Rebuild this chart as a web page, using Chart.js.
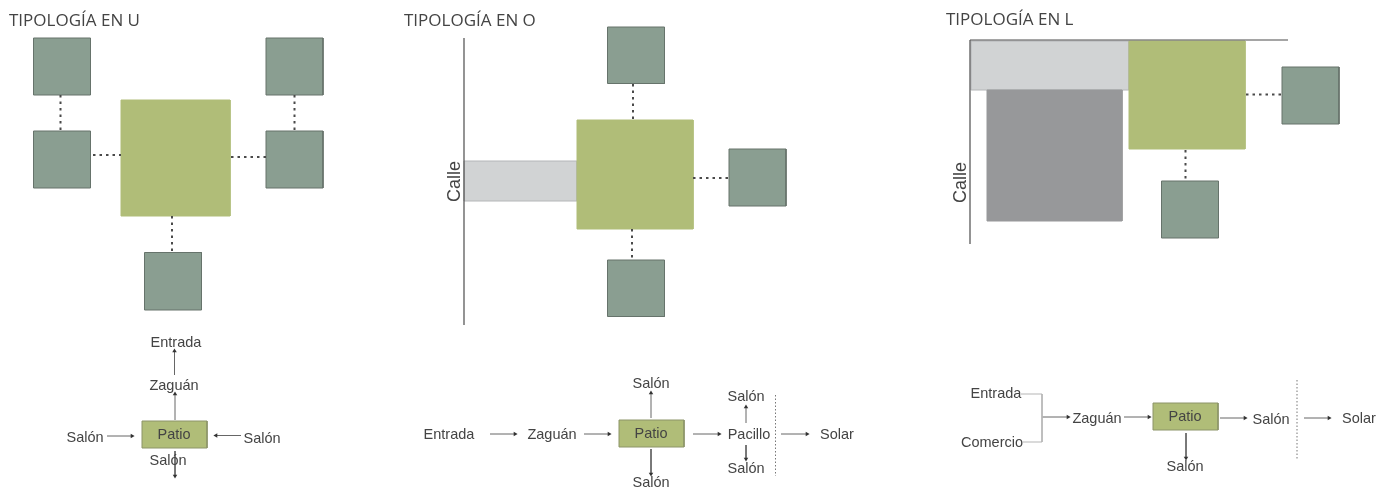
<!DOCTYPE html>
<html>
<head>
<meta charset="utf-8">
<title>Tipologías</title>
<style>
  html, body { margin: 0; padding: 0; background: #fff; }
  #wrap { width: 1392px; height: 487px; }
</style>
<script src="https://cdn.jsdelivr.net/npm/chart.js@4"></script>
</head>
<body>
<div id="wrap"><canvas id="chart" width="1392" height="487"></canvas></div>
<script>
var leafBoxes = [
  [33.5, 38, 90.5, 95], [33.5, 131, 90.5, 188], [266, 38, 323, 95], [266, 131, 323, 188], [144.5, 252.5, 201.5, 310],
  [607.5, 27, 664.5, 83.5], [607.5, 260, 664.5, 316.5], [729, 149, 786, 206],
  [1282, 67, 1339, 124], [1161.5, 181, 1218.5, 238]
];
var patioBoxes = [[121, 100, 230, 216], [577, 120, 693, 229], [1129, 41, 1245, 149]];
var miniPatios = [[142, 421, 207, 448], [619, 420, 684, 447], [1153, 403, 1218, 430]];
var zaguanBoxes = [[464, 161, 577, 201], [971, 41, 1129, 90]];
var shopBoxes = [[987, 90, 1122, 221]];

var dottedLinks = [
  [60.5, 95, 60.5, 131], [294.5, 95, 294.5, 131], [93, 155, 121, 155], [231, 157, 266, 157], [172, 216, 172, 252],
  [633, 84, 633, 120], [632, 229, 632, 259], [693, 178, 729, 178],
  [1246, 94.5, 1282, 94.5], [1185.5, 150, 1185.5, 181]
];
var streetLines = [[464, 38, 464, 325], [970, 40, 970, 244], [970, 40, 1288, 40]];
var arrows = [
  [174.5, 375, 174.5, 351], [175, 420, 175, 394], [107, 436, 132, 436], [241, 435.5, 216, 435.5], [175, 451, 175, 476],
  [490, 434, 515, 434], [584, 434, 609, 434], [651, 418, 651, 393], [651, 449, 651, 474],
  [693, 434, 719, 434], [746, 423, 746, 407], [746, 445, 746, 459], [781, 434, 807, 434],
  [1042, 417, 1068, 417], [1124, 417, 1149, 417], [1220, 418, 1245, 418], [1186, 433, 1186, 458], [1304, 418, 1329, 418]
];
var bracket = [[1021, 394], [1042, 394], [1042, 442], [1023, 442]];
var limitLines = [[775.5, 395, 775.5, 476], [1297, 380, 1297, 460]];

var titles = [["TIPOLOGÍA EN U", 9, 21], ["TIPOLOGÍA EN O", 404, 21], ["TIPOLOGÍA EN L", 946, 20]];
var streetLabels = [["Calle", 455, 181.5], ["Calle", 961, 182.5]];
var flowLabels = [
  ["Entrada", 176, 343], ["Zaguán", 174, 385.5], ["Patio", 174, 435], ["Salón", 85, 438], ["Salón", 262, 439], ["Salón", 168, 461],
  ["Entrada", 449, 435], ["Zaguán", 552, 435], ["Patio", 651, 434], ["Salón", 651, 384], ["Salón", 651, 483],
  ["Pacillo", 749, 435], ["Salón", 746, 397], ["Salón", 746, 469], ["Solar", 837, 435],
  ["Entrada", 996, 394], ["Comercio", 992, 442.5], ["Zaguán", 1097, 419], ["Patio", 1185, 417], ["Salón", 1271, 419.5],
  ["Salón", 1185, 466.5], ["Solar", 1359, 419]
];

var datasets = [];

function addBoxes(boxes, fill, edge, order) {
  boxes.forEach(function(b) {
    datasets.push({
      data: [{x: b[0], y: b[1]}, {x: b[2], y: b[1]}, {x: b[2], y: b[3]}, {x: b[0], y: b[3]}, {x: b[0], y: b[1]}],
      showLine: true, fill: 'shape', backgroundColor: fill, borderColor: edge, borderWidth: 1,
      pointRadius: 0, order: order
    });
  });
}

function addLines(lines, color, width, dash) {
  lines.forEach(function(l) {
    datasets.push({
      data: [{x: l[0], y: l[1]}, {x: l[2], y: l[3]}],
      showLine: true, borderColor: color, borderWidth: width, borderDash: dash,
      pointRadius: 0, order: 0
    });
  });
}

addBoxes(shopBoxes, '#97989a', '#97989a', 3);
addBoxes(zaguanBoxes, '#d1d3d4', '#b4b6b8', 3);
addBoxes(patioBoxes, '#b0bd78', '#b0bd78', 2);
addBoxes(miniPatios, '#b0bd78', '#8c9468', 2);
addBoxes(leafBoxes, '#8a9e91', '#66736b', 2);
addLines(dottedLinks, '#4a4a4a', 2, [2.5, 4]);
addLines(streetLines, '#4d4d4d', 1.2, []);
addLines(limitLines, '#777777', 1, [1.5, 2]);

datasets.push({
  data: bracket.map(function(p) { return {x: p[0], y: p[1]}; }),
  showLine: true, borderColor: '#b5b5b5', borderWidth: 1, pointRadius: 0, order: 0
});

// the head is a triangle point on the last vertex, turned along the line
arrows.forEach(function(a) {
  var turn = Math.atan2(a[3] - a[1], a[2] - a[0]) * 180 / Math.PI + 90;
  datasets.push({
    data: [{x: a[0], y: a[1]}, {x: a[2], y: a[3]}],
    showLine: true, borderColor: '#666666', borderWidth: 1,
    pointStyle: 'triangle', pointRadius: [0, 2.6], pointRotation: turn,
    pointBackgroundColor: '#333333', pointBorderWidth: 0, order: 0
  });
});

var textPlugin = {
  id: 'diagramText',
  afterDatasetsDraw: function(chart) {
    var ctx = chart.ctx, sx = chart.scales.x, sy = chart.scales.y;
    ctx.save();
    ctx.textBaseline = 'middle';
    ctx.fillStyle = '#444444';

    ctx.font = '17px "Open Sans"';
    ctx.textAlign = 'left';
    titles.forEach(function(t) { ctx.fillText(t[0], sx.getPixelForValue(t[1]), sy.getPixelForValue(t[2])); });

    ctx.font = '14.5px "Liberation Sans"';
    ctx.textAlign = 'center';
    flowLabels.forEach(function(t) { ctx.fillText(t[0], sx.getPixelForValue(t[1]), sy.getPixelForValue(t[2])); });

    ctx.font = '18px "Liberation Sans"';
    streetLabels.forEach(function(t) {
      ctx.save();
      ctx.translate(sx.getPixelForValue(t[1]), sy.getPixelForValue(t[2]));
      ctx.rotate(-Math.PI / 2);
      ctx.fillText(t[0], 0, 0);
      ctx.restore();
    });
    ctx.restore();
  }
};

var chart = new Chart(document.getElementById('chart').getContext('2d'), {
  type: 'scatter',
  data: { datasets: datasets },
  plugins: [textPlugin],
  options: {
    responsive: false,
    animation: false,
    layout: { padding: 0, autoPadding: false },
    plugins: { legend: { display: false }, tooltip: { enabled: false }, title: { display: false } },
    scales: {
      x: { type: 'linear', display: false, min: 0, max: 1392 },
      y: { type: 'linear', display: false, min: 0, max: 487, reverse: true }
    }
  }
});
</script>
</body>
</html>
